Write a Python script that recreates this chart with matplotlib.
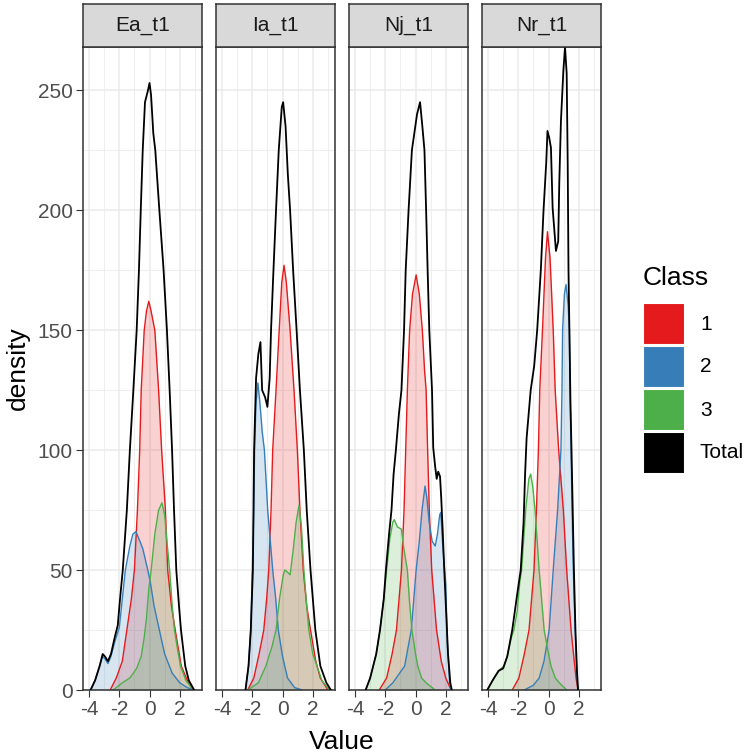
import matplotlib
matplotlib.use("Agg")
import matplotlib.pyplot as plt
from matplotlib.patches import Rectangle
from matplotlib.ticker import MultipleLocator

plt.rcParams['font.family'] = ['Liberation Sans', 'DejaVu Sans']
plt.rcParams['axes.unicode_minus'] = False

facets = ["Ea_t1", "Ia_t1", "Nj_t1", "Nr_t1"]
classes = ["1", "2", "3", "Total"]
colors = ["#E41A1C", "#377EB8", "#4DAF4A", "#000000"]

# (value, density) points
ea_1 = [(-2.6, 0), (-2.2, 5), (-1.8, 12), (-1.5, 25), (-1.2, 38), (-1.0, 50), (-0.8, 75), (-0.65, 100),
        (-0.55, 125), (-0.35, 150), (-0.2, 158), (-0.05, 162), (0.1, 158), (0.35, 150), (0.6, 125),
        (0.8, 100), (1.05, 75), (1.2, 50), (1.45, 35), (1.7, 25), (2.1, 10), (2.5, 4), (2.85, 0)]
ea_2 = [(-3.9, 0), (-3.6, 4), (-3.3, 10), (-3.1, 14), (-2.95, 13), (-2.75, 11), (-2.55, 14), (-2.3, 20),
        (-2.0, 26), (-1.8, 38), (-1.6, 50), (-1.3, 60), (-1.1, 65), (-0.9, 66), (-0.7, 63), (-0.45, 59),
        (-0.15, 51), (0.05, 45), (0.3, 35), (0.65, 25), (1.0, 15), (1.5, 7), (2.0, 3), (2.5, 1), (2.9, 0)]
ea_3 = [(-2.4, 0), (-1.8, 3), (-1.3, 5), (-0.85, 9), (-0.55, 14), (-0.35, 22), (-0.2, 30), (-0.05, 42),
        (0.11, 50), (0.35, 65), (0.6, 75), (0.82, 78), (1.0, 73), (1.15, 62), (1.33, 50), (1.5, 35),
        (1.65, 25), (1.85, 17), (2.05, 10), (2.4, 4), (2.9, 0)]
ea_total = [(-3.9, 0), (-3.6, 4), (-3.3, 10), (-3.1, 15), (-2.95, 14), (-2.75, 12), (-2.55, 15), (-2.3, 22),
            (-2.1, 27), (-1.95, 38), (-1.77, 50), (-1.5, 75), (-1.3, 100), (-1.07, 125), (-0.85, 150),
            (-0.7, 175), (-0.58, 200), (-0.45, 225), (-0.3, 245), (-0.1, 250), (0.0, 253), (0.1, 248),
            (0.25, 232), (0.38, 225), (0.65, 200), (0.93, 175), (1.15, 150), (1.33, 125), (1.49, 100),
            (1.62, 75), (1.77, 50), (1.95, 35), (2.08, 25), (2.36, 10), (2.6, 4), (2.95, 0)]

ia_1 = [(-2.3, 0), (-1.9, 5), (-1.55, 15), (-1.24, 25), (-1.05, 38), (-0.91, 50), (-0.76, 75), (-0.65, 100),
        (-0.43, 125), (-0.22, 150), (-0.05, 170), (0.1, 177), (0.25, 170), (0.5, 150), (0.76, 125),
        (0.98, 100), (1.15, 75), (1.37, 50), (1.6, 35), (1.85, 25), (2.2, 12), (2.5, 5), (3.0, 0)]
ia_2 = [(-2.45, 0), (-2.25, 10), (-2.1, 25), (-2.0, 50), (-1.9, 75), (-1.85, 100), (-1.75, 120), (-1.63, 128),
        (-1.5, 120), (-1.35, 108), (-1.2, 100), (-0.98, 75), (-0.65, 50), (-0.45, 38), (-0.28, 25),
        (0.0, 14), (0.33, 5), (0.8, 1), (1.3, 0)]
ia_3 = [(-2.3, 0), (-1.6, 3), (-1.1, 10), (-0.7, 18), (-0.43, 25), (-0.2, 38), (0.05, 48), (0.15, 50),
        (0.35, 49), (0.5, 48), (0.7, 58), (0.9, 70), (1.09, 77), (1.25, 68), (1.41, 50), (1.6, 35),
        (1.74, 25), (2.0, 15), (2.28, 10), (2.6, 4), (3.1, 0)]
ia_total = [(-2.45, 0), (-2.25, 10), (-2.1, 25), (-1.96, 50), (-1.88, 100), (-1.75, 130), (-1.6, 140),
            (-1.46, 145), (-1.35, 125), (-1.15, 122), (-1.0, 118), (-0.85, 130), (-0.76, 150), (-0.6, 175),
            (-0.43, 200), (-0.25, 225), (-0.05, 243), (0.04, 245), (0.2, 235), (0.35, 215), (0.5, 200),
            (0.7, 175), (0.93, 150), (1.15, 125), (1.41, 100), (1.6, 75), (1.85, 50), (2.17, 25),
            (2.5, 10), (2.9, 3), (3.2, 0)]

nj_1 = [(-2.4, 0), (-1.91, 5), (-1.55, 15), (-1.26, 25), (-0.93, 50), (-0.76, 75), (-0.65, 100), (-0.54, 125),
        (-0.39, 150), (-0.2, 165), (0.04, 173), (0.25, 165), (0.45, 150), (0.6, 133), (0.7, 125),
        (0.8, 100), (0.91, 75), (1.07, 50), (1.39, 25), (1.7, 12), (2.0, 5), (2.35, 0)]
nj_2 = [(-2.0, 0), (-1.5, 3), (-0.72, 10), (-0.28, 25), (0.04, 50), (0.25, 62), (0.43, 75), (0.63, 85),
        (0.75, 80), (0.9, 70), (1.1, 62), (1.3, 60), (1.45, 65), (1.6, 73), (1.67, 74), (1.8, 60),
        (2.0, 44), (2.1, 20), (2.25, 3), (2.35, 0)]
nj_3 = [(-3.3, 0), (-3.0, 5), (-2.6, 15), (-2.35, 25), (-2.1, 38), (-1.91, 50), (-1.7, 63), (-1.5, 70),
        (-1.41, 71), (-1.2, 68), (-0.93, 67), (-0.8, 60), (-0.54, 50), (-0.4, 37), (-0.24, 25), (0.0, 15),
        (0.15, 10), (0.4, 5), (0.7, 3), (1.3, 0)]
nj_total = [(-3.3, 0), (-3.0, 5), (-2.6, 15), (-2.35, 25), (-2.1, 38), (-1.96, 50), (-1.75, 65), (-1.59, 75),
            (-1.45, 90), (-1.3, 100), (-1.1, 115), (-0.93, 125), (-0.76, 150), (-0.65, 175), (-0.46, 200),
            (-0.24, 225), (0.1, 240), (0.3, 245), (0.45, 235), (0.59, 225), (0.7, 200), (0.8, 175),
            (0.91, 150), (1.09, 125), (1.17, 101), (1.3, 93), (1.4, 88), (1.5, 91), (1.62, 89), (1.7, 80),
            (1.8, 66), (1.9, 50), (2.0, 36), (2.15, 15), (2.3, 3), (2.4, 0)]

nr_1 = [(-2.4, 0), (-1.96, 5), (-1.6, 15), (-1.29, 25), (-0.96, 50), (-0.8, 75), (-0.67, 100), (-0.58, 125),
        (-0.4, 150), (-0.2, 180), (-0.07, 191), (0.1, 180), (0.31, 150), (0.44, 125), (0.67, 100),
        (0.98, 75), (1.2, 50), (1.49, 25), (1.7, 12), (1.82, 5), (1.95, 0)]
nr_2 = [(-1.6, 0), (-1.0, 2), (-0.62, 5), (-0.3, 12), (0.04, 25), (0.31, 50), (0.6, 75), (0.82, 100),
        (0.89, 125), (0.93, 150), (1.05, 165), (1.16, 169), (1.3, 160), (1.38, 150), (1.42, 125),
        (1.49, 100), (1.56, 75), (1.64, 50), (1.76, 25), (1.89, 5), (1.95, 0)]
nr_3 = [(-4.05, 0), (-3.7, 4), (-3.3, 8), (-2.96, 10), (-2.73, 14), (-2.45, 22), (-2.29, 25), (-2.07, 33),
        (-1.9, 45), (-1.78, 50), (-1.51, 75), (-1.3, 88), (-1.18, 90), (-1.05, 85), (-0.89, 75),
        (-0.62, 50), (-0.29, 25), (0.0, 15), (0.16, 10), (0.45, 5), (0.71, 3), (1.2, 0)]
nr_total = [(-4.05, 0), (-3.7, 4), (-3.3, 8), (-3.0, 9), (-2.73, 14), (-2.4, 25), (-2.07, 40), (-1.84, 50),
            (-1.65, 70), (-1.55, 90), (-1.45, 105), (-1.18, 125), (-0.95, 135), (-0.75, 150), (-0.51, 175),
            (-0.33, 200), (-0.15, 220), (-0.07, 233), (0.05, 230), (0.16, 226), (0.27, 201), (0.49, 183),
            (0.64, 187), (0.71, 211), (0.82, 237), (0.98, 258), (1.09, 268), (1.2, 257), (1.27, 218),
            (1.32, 175), (1.38, 150), (1.45, 120), (1.52, 100), (1.6, 75), (1.68, 50), (1.78, 25),
            (1.88, 8), (1.95, 0)]

curves = {
    "Ea_t1": [ea_1, ea_2, ea_3, ea_total],
    "Ia_t1": [ia_1, ia_2, ia_3, ia_total],
    "Nj_t1": [nj_1, nj_2, nj_3, nj_total],
    "Nr_t1": [nr_1, nr_2, nr_3, nr_total],
}

W, H = 750, 756
fig = plt.figure(figsize=(W / 100, H / 100), dpi=100)

def fx(px):
    return px / W

def fy(py):
    return 1 - py / H

panel_top, panel_bot, strip_top = 47, 690, 3.5
for i, name in enumerate(facets):
    left = 83 + 133 * i
    ax = fig.add_axes([fx(left), fy(panel_bot), 119 / W, (panel_bot - panel_top) / H])
    ax.set_xlim(-4.4, 3.47)
    ax.set_ylim(0, 268)
    ax.xaxis.set_major_locator(MultipleLocator(2))
    ax.xaxis.set_minor_locator(MultipleLocator(1))
    ax.yaxis.set_major_locator(MultipleLocator(50))
    ax.yaxis.set_minor_locator(MultipleLocator(25))
    ax.set_axisbelow(True)
    ax.grid(which="major", color="#EBEBEB", lw=1.1)
    ax.grid(which="minor", color="#EBEBEB", lw=0.6)
    for s in ax.spines.values():
        s.set_color("#333333")
        s.set_linewidth(1.1)
    ax.tick_params(which="major", direction="out", length=5, width=0.8, color="#333333",
                   labelcolor="#4D4D4D", labelsize=15, pad=2.5)
    ax.tick_params(which="minor", length=0)
    if i > 0:
        ax.tick_params(axis="y", which="both", left=False, labelleft=False)

    for pts, col, cls in zip(curves[name], colors, classes):
        xs = [p[0] for p in pts]
        ys = [p[1] for p in pts]
        if cls != "Total":
            ax.fill_between(xs, ys, color=col, alpha=0.2, lw=0)
            ax.plot(xs, ys, color=col, lw=1.0)
        else:
            ax.plot(xs, ys, color=col, lw=1.3, zorder=5)

    sax = fig.add_axes([fx(left), fy(panel_top), 119 / W, (panel_top - strip_top) / H])
    sax.set_facecolor("#D9D9D9")
    sax.set_xticks([])
    sax.set_yticks([])
    for s in sax.spines.values():
        s.set_color("#333333")
        s.set_linewidth(1.1)
    sax.text(0.5, 0.5, name, ha="center", va="center", fontsize=15, color="#1A1A1A",
             transform=sax.transAxes)

fig.text(fx(342), fy(742), "Value", ha="center", va="center", fontsize=19)
fig.text(fx(18), fy(368), "density", ha="center", va="center", rotation=90, fontsize=19)

# legend
fig.text(fx(643), fy(278), "Class", ha="left", va="center", fontsize=19)
key_top = 303
for j, (cls, col) in enumerate(zip(classes, colors)):
    top = key_top + 43 * j
    fig.add_artist(Rectangle((fx(643), fy(top + 42)), 42 / W, 42 / H, transform=fig.transFigure,
                             facecolor=col, edgecolor="white", lw=1.5))
    fig.text(fx(700), fy(top + 21), cls, ha="left", va="center", fontsize=15, color="#000000")

fig.savefig("out.png", dpi=100)
